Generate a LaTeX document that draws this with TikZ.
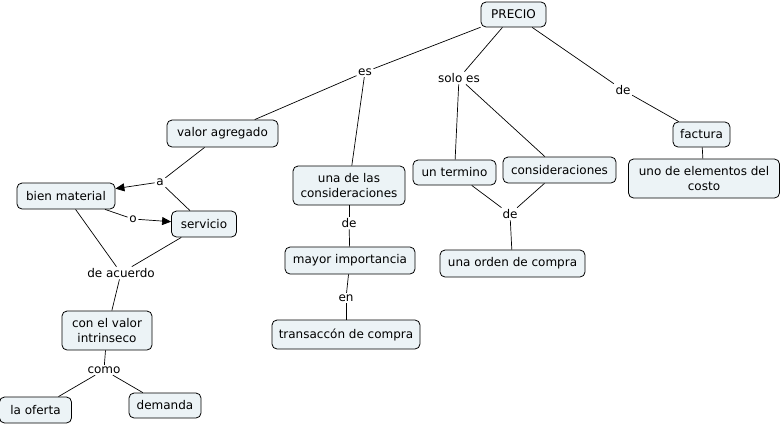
\documentclass[tikz,border=0pt]{standalone}
\usepackage{fontspec}
\setmainfont{DejaVu Sans}
\usetikzlibrary{arrows.meta}
\definecolor{boxfill}{RGB}{236,243,246}
\tikzset{
  concept/.style={draw=black, line width=0.8pt, fill=boxfill, rounded corners=5pt, align=center, inner sep=2pt, font=\fontsize{12}{14.5}\selectfont},
  linkl/.style={inner sep=1.5pt, font=\fontsize{12}{14.5}\selectfont},
  conn/.style={line width=0.7pt},
  arr/.style={conn, -{Triangle[length=9pt,width=8pt]}}
}
\begin{document}
\begin{tikzpicture}[x=1pt,y=-1pt]
\useasboundingbox (0,0) rectangle (781,424);
% concepts
\node[concept, minimum width=65, minimum height=25] (precio) at (513.5,14.5) {PRECIO};
\node[concept, minimum width=111, minimum height=27] (valor) at (222.5,133.5) {valor agregado};
\node[concept, minimum width=98, minimum height=26] (bien) at (66,196) {bien material};
\node[concept, minimum width=65, minimum height=26] (serv) at (204,224) {servicio};
\node[concept, minimum width=90, minimum height=39] (intr) at (107,330.5) {con el valor\\intrinseco};
\node[concept, minimum width=72, minimum height=26] (oferta) at (35.5,410) {la oferta};
\node[concept, minimum width=72, minimum height=25] (demanda) at (165,405.5) {demanda};
\node[concept, minimum width=112, minimum height=39] (una) at (349,185.5) {una de las\\consideraciones};
\node[concept, minimum width=130, minimum height=27] (mayor) at (350,260.5) {mayor importancia};
\node[concept, minimum width=148, minimum height=29] (trans) at (346,334.5) {transaccón de compra};
\node[concept, minimum width=83, minimum height=25] (term) at (454.5,172.5) {un termino};
\node[concept, minimum width=113, minimum height=26] (consid) at (559.5,170) {consideraciones};
\node[concept, minimum width=145, minimum height=27] (orden) at (512.5,263.5) {una orden de compra};
\node[concept, minimum width=57, minimum height=25] (factura) at (701.5,134.5) {factura};
\node[concept, minimum width=151, minimum height=39] (costo) at (704,178.5) {uno de elementos del\\costo};
% link labels
\node[linkl] (es) at (365,72) {es};
\node[linkl] (solo) at (459,78) {solo es};
\node[linkl] (de1) at (623,90) {de};
\node[linkl] (a) at (160,182) {a};
\node[linkl] (o) at (133,219) {o};
\node[linkl] (acuerdo) at (121,273) {de acuerdo};
\node[linkl] (de2) at (349,223) {de};
\node[linkl] (en) at (346,298) {en};
\node[linkl] (de3) at (510,214) {de};
\node[linkl] (como) at (104,370) {como};
% connectors
\draw[conn] (precio) -- (es);
\draw[conn] (es) -- (valor);
\draw[conn] (es) -- (una);
\draw[conn] (precio) -- (solo);
\draw[conn] (solo) -- (term);
\draw[conn] (solo) -- (consid);
\draw[conn] (precio) -- (de1);
\draw[conn] (de1) -- (factura);
\draw[conn] (factura) -- (costo);
\draw[conn] (valor) -- (a);
\draw[arr] (a) -- (bien);
\draw[conn] (a) -- (serv);
\draw[conn] (bien) -- (o);
\draw[arr] (o) -- (serv);
\draw[conn] (bien) -- (acuerdo);
\draw[conn] (serv) -- (acuerdo);
\draw[conn] (acuerdo) -- (intr);
\draw[conn] (intr) -- (como);
\draw[conn] (como) -- (oferta);
\draw[conn] (como) -- (demanda);
\draw[conn] (una) -- (de2);
\draw[conn] (de2) -- (mayor);
\draw[conn] (mayor) -- (en);
\draw[conn] (en) -- (trans);
\draw[conn] (term) -- (de3);
\draw[conn] (consid) -- (de3);
\draw[conn] (de3) -- (orden);
\end{tikzpicture}
\end{document}
